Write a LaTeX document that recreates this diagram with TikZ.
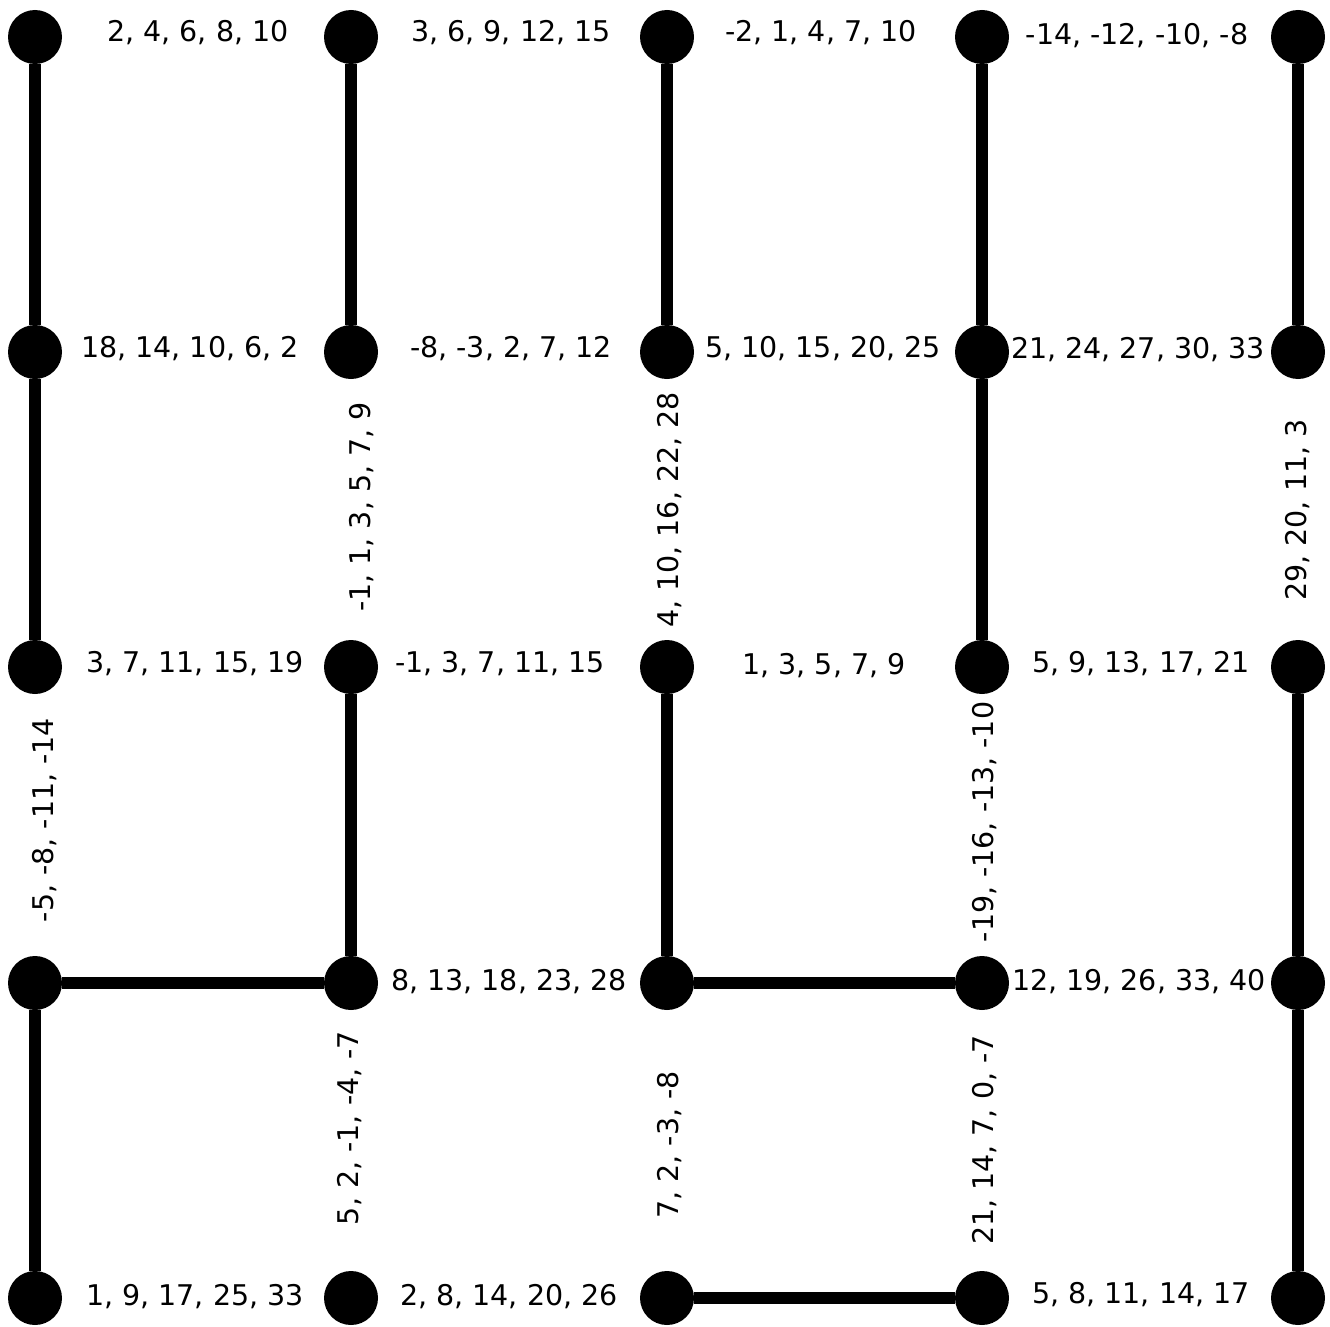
\documentclass[tikz,border=0pt]{standalone}
\usepackage{fontspec}
\setmainfont{DejaVu Sans}
\begin{document}
\begin{tikzpicture}[x=1pt,y=-1pt,
  dot/.style={circle,fill=black,minimum size=54pt,inner sep=0pt},
  link/.style={line width=12pt},
  lbl/.style={inner sep=0pt,font=\fontsize{28.5}{30}\selectfont},
  vlbl/.style={lbl,rotate=90}]
\useasboundingbox (0,0) rectangle (1330,1327);
\foreach \c/\x in {0/35,1/351,2/667,3/982,4/1298}
  \foreach \r/\y in {0/37,1/352,2/667,3/983,4/1298}
    \node[dot] (d\c\r) at (\x,\y) {};
% connectors
\draw[link] (d00) -- (d01);
\draw[link] (d01) -- (d02);
\draw[link] (d10) -- (d11);
\draw[link] (d20) -- (d21);
\draw[link] (d30) -- (d31);
\draw[link] (d31) -- (d32);
\draw[link] (d40) -- (d41);
\draw[link] (d12) -- (d13);
\draw[link] (d22) -- (d23);
\draw[link] (d42) -- (d43);
\draw[link] (d43) -- (d44);
\draw[link] (d03) -- (d13);
\draw[link] (d23) -- (d33);
\draw[link] (d03) -- (d04);
\draw[link] (d24) -- (d34);
% horizontal labels
\node[lbl] (h00) at (198,33) {2, 4, 6, 8, 10};
\node[lbl] (h10) at (511,33) {3, 6, 9, 12, 15};
\node[lbl] (h20) at (821,33) {-2, 1, 4, 7, 10};
\node[lbl] (h30) at (1137,36) {-14, -12, -10, -8};
\node[lbl] (h01) at (190,349) {18, 14, 10, 6, 2};
\node[lbl] (h11) at (511,349) {-8, -3, 2, 7, 12};
\node[lbl] (h21) at (823,349) {5, 10, 15, 20, 25};
\node[lbl] (h31) at (1138,350) {21, 24, 27, 30, 33};
\node[lbl] (h02) at (195,664) {3, 7, 11, 15, 19};
\node[lbl] (h12) at (500,664) {-1, 3, 7, 11, 15};
\node[lbl] (h22) at (824,666) {1, 3, 5, 7, 9};
\node[lbl] (h32) at (1141,664) {5, 9, 13, 17, 21};
\node[lbl] (h13) at (509,982) {8, 13, 18, 23, 28};
\node[lbl] (h33) at (1139,982) {12, 19, 26, 33, 40};
\node[lbl] (h04) at (195,1297) {1, 9, 17, 25, 33};
\node[lbl] (h14) at (509,1297) {2, 8, 14, 20, 26};
\node[lbl] (h34) at (1141,1295) {5, 8, 11, 14, 17};
% vertical labels
\node[vlbl] (v11) at (362,507) {-1, 1, 3, 5, 7, 9};
\node[vlbl] (v21) at (670,510) {4, 10, 16, 22, 28};
\node[vlbl] (v41) at (1298,510) {29, 20, 11, 3};
\node[vlbl] (v02) at (45,820) {-5, -8, -11, -14};
\node[vlbl] (v32) at (985,822) {-19, -16, -13, -10};
\node[vlbl] (v13) at (350,1128) {5, 2, -1, -4, -7};
\node[vlbl] (v23) at (670,1145) {7, 2, -3, -8};
\node[vlbl] (v33) at (985,1140) {21, 14, 7, 0, -7};
\end{tikzpicture}
\end{document}
